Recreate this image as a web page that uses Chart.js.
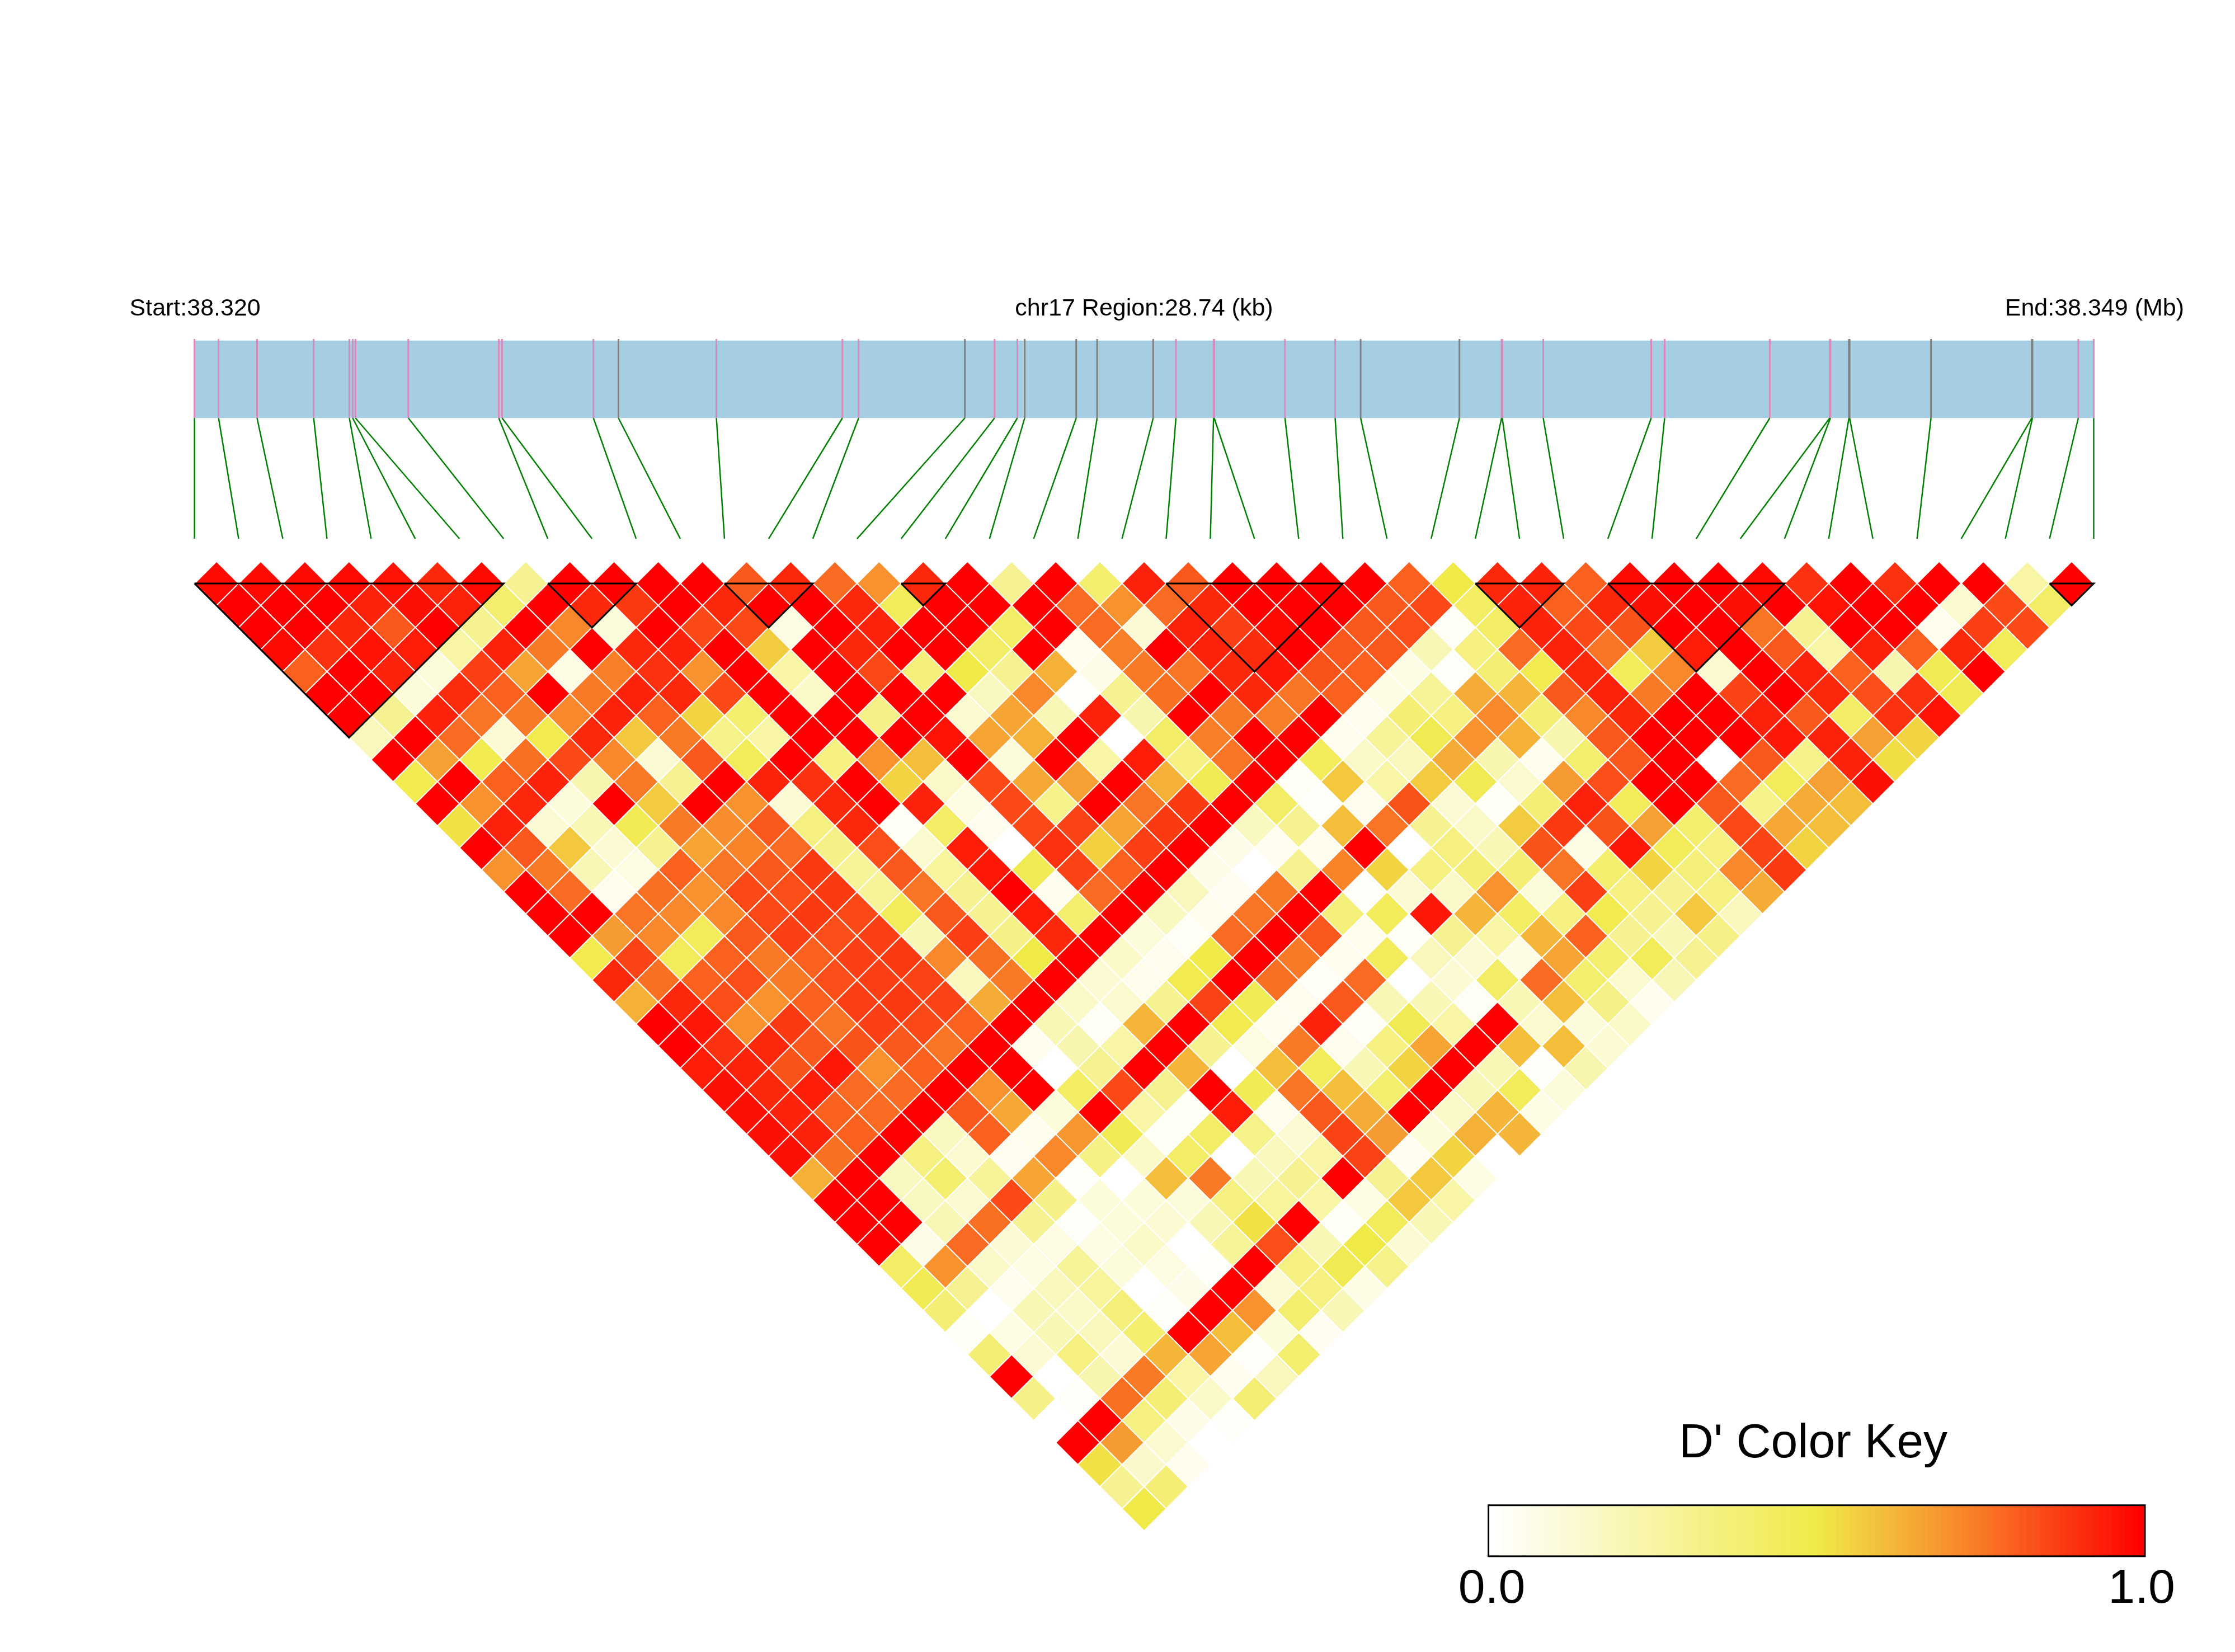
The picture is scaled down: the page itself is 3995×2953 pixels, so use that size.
<!DOCTYPE html>
<html>
<head>
<meta charset="utf-8">
<title>D' LD heatmap chr17</title>
<script src="https://cdn.jsdelivr.net/npm/chart.js@4/dist/chart.umd.min.js"></script>
<style>
  html, body { margin: 0; padding: 0; background: #fff; }
  #wrap { position: relative; width: 3995px; height: 2953px; overflow: hidden; }
  canvas { position: absolute; display: block; }
</style>
</head>
<body>
<div id="wrap">
  <canvas id="ldChart" width="3995" height="2953" style="left:0;top:0"></canvas>
  <canvas id="keyChart" width="1400" height="193" style="left:2560px;top:2680px"></canvas>
</div>
<script>
const regionKb = 28.74;

// SNP positions in kb from the region start
const snpKb = [0, .365, .947, 1.804, 2.344, 2.394, 2.436, 3.236, 4.605, 4.655, 6.037,
  6.416, 7.898, 9.805, 10.05, 11.658, 12.107, 12.452, 12.563, 13.343, 13.659, 14.508,
  14.852, 15.421, 15.431, 16.502, 17.261, 17.647, 19.142, 19.78, 19.79, 20.41, 22.044,
  22.247, 23.838, 24.746, 24.756, 25.036, 25.046, 26.278, 27.803, 27.813, 28.507, 28.74];
// SNPs whose tick is grey, the others are pink
const greySnps = [11, 15, 18, 19, 20, 21, 27, 28, 37, 38, 39, 40, 41];

// haplotype blocks as first and last SNP index
const blockStart = [0, 8, 12, 16, 22, 29, 32, 42];
const blockEnd = [7, 10, 14, 17, 26, 31, 36, 43];

// D' per row: row r holds the pairs (k, k + r + 1)
const dPrime = [
  [.98,.98,.98,.98,.96,.92,.98,.3,1,1,1,1,.82,.92,.78,.7,.92,1,.3,1,.4,.93,.82,1,1,1,1,.8,.5,.92,.93,.8,.98,1,1,.98,.9,1,.9,1,1,.25,1],
  [1,1,1,.93,.97,.93,.4,1,.92,.88,1,.92,1,1,.92,.45,1,1,1,.78,.7,.78,.92,1,1,1,.82,.85,.43,.93,.8,.92,.97,1,.97,1,.96,1,1,.13,.85,.42],
  [1,1,.92,.82,1,.3,1,.72,.1,1,.85,.85,.08,1,.93,1,1,.42,1,.78,.12,.93,.87,.98,1,.82,.84,.03,.42,.93,.85,.83,1,1,.76,.3,1,1,.05,.87,.85],
  [.98,.9,.96,.94,.25,.93,.75,1,.92,.93,1,.57,1,.92,1,1,.42,1,.05,.74,1,.93,.91,1,.82,.82,.2,.35,.78,.93,.76,.57,.94,1,.82,.25,.93,.8,.92,.46],
  [.8,1,.93,.1,.87,.66,.08,.74,.9,.7,1,.25,1,.85,.37,.5,.3,.63,.06,.75,.76,.92,.95,.83,.8,.07,.02,.38,.48,.92,.46,.72,.13,1,.93,.8,.22,.47,1],
  [1,1,.1,.91,.8,1,.75,.93,.92,.85,1,.15,1,1,1,.17,.72,.01,.3,.77,1,.92,.76,.8,.07,.28,.64,.62,.82,.93,.75,1,.86,1,.92,.84,.9,.47],
  [1,.3,.93,.76,.75,.72,.93,.8,.55,.4,1,1,.33,1,.13,.66,.2,.93,.22,1,.75,.74,1,.05,.38,.35,.72,.38,.72,.92,1,1,.93,.82,.42,.9,.96],
  [.18,1,.78,.12,.48,.92,.58,.75,.32,.25,1,1,1,.96,.66,.63,1,0,.42,.74,1,1,.05,.28,.47,.7,.63,.22,.82,1,1,1,.95,.93,.67,.55],
  [1,.67,.48,.77,.85,.72,.12,.82,.45,1,.35,.7,.6,1,.1,1,.25,.94,.35,.76,1,.45,.15,.18,.64,.22,.05,.4,.82,1,0,.82,.32,.93,.53],
  [.48,1,.8,.93,.22,.75,.3,1,.93,.9,1,.55,.15,.85,.65,.67,1,.63,.47,1,.03,.58,.25,.57,.47,.13,.68,.84,1,1,.78,.45,.67,.97],
  [1,.7,.92,.1,1,.57,1,.7,.12,.92,1,.93,.08,.85,.32,1,.76,.88,1,.42,.02,.05,.83,.12,.03,.38,.93,.45,1,.82,.32,.64,.6],
  [.52,.93,.12,.2,.47,.75,.71,.82,.35,.92,.03,.42,.05,.85,.86,.66,.88,1,.17,.3,.6,.76,.3,.15,.57,.88,.83,.67,.4,.85,.65,.6],
  [1,.82,.58,.12,.3,.66,.73,.78,.33,.84,.13,.94,0,.9,.56,.87,1,.06,.04,.05,1,0,.35,.2,.83,.07,.95,.45,.35,.86,.55],
  [.7,.75,.2,.08,.8,.76,.82,.88,.28,.82,.27,.95,.47,.86,.8,1,.06,0,.3,.73,.55,.35,.38,.38,.76,.4,.55,.37,.72,.88],
  [1,.78,.05,.77,.7,.85,.84,.88,.28,.76,.3,1,.05,.78,1,.18,.04,.75,1,.02,.12,.15,.7,.1,.87,.35,.3,.35,.64],
  [1,1,.76,.72,.72,.85,.88,.85,.45,.82,.3,.94,.4,1,.17,.05,.76,1,.37,.45,.95,.62,.43,.35,.48,.3,.58,.18],
  [1,.68,.72,.45,.82,.87,.84,.87,.2,.87,.33,.92,1,.1,.03,.78,1,.82,.05,.03,.3,.25,.62,.8,.3,.2,.33],
  [.48,.86,.45,.8,.75,.8,.87,.88,.72,.77,.5,1,.15,.05,.5,1,.75,.05,.45,.18,.12,.07,.66,.4,.45,.3],
  [.92,.77,.8,.84,.75,.84,.87,.86,.18,.75,1,.12,.05,.48,1,.77,.03,.78,0,.12,.42,.78,.4,.13,.2],
  [.63,.92,.84,.7,.8,.87,.88,.86,.64,1,.15,.13,.3,.86,.47,.05,.82,.2,.2,.03,.2,.6,.33,.05],
  [1,.95,.7,.88,.76,.87,.85,.8,1,.2,.03,.62,1,.48,.05,.93,.03,.47,.25,1,.13,.1,.15],
  [1,.9,.92,.82,.83,.82,.76,1,.05,.22,.25,1,.3,.08,.75,.05,.35,.66,1,.6,.6,.12],
  [.94,.93,.83,.95,.7,.8,1,1,0,.3,1,.62,0,.6,.45,.2,.55,1,.2,.02,.22],
  [.97,.92,.94,.78,.78,1,.7,1,.43,.85,.3,1,.47,.76,.6,.4,1,.2,.45,.1],
  [.97,.93,.8,.78,1,.82,.65,.1,1,.25,.03,.94,.05,.82,.64,1,.15,.62,.07],
  [.97,.93,.8,1,.17,.8,.05,.69,.47,.03,.42,.32,.12,.86,.68,.1,.63,.62],
  [.97,.77,1,.35,.13,.04,.72,.34,.15,.42,0,.18,.25,.86,.04,.55,0],
  [.63,1,.17,.4,.28,.66,.02,0,.6,.75,.2,.3,1,.3,.58,.07],
  [1,1,.17,.13,.85,.33,.1,.1,.1,.35,.27,.25,.08,.58,.25],
  [1,1,.2,.77,.3,.02,.1,.12,.2,.52,1,.03,.45,.2],
  [1,.06,.78,.12,.08,.08,.15,0,.28,.84,.2,.5,.12],
  [.42,.7,.15,.08,.28,.1,.08,.01,1,.35,.47,.32],
  [.47,.3,.05,.18,.27,0,.06,1,.12,.35,.07],
  [.38,0,.2,.15,.37,.02,1,.7,.4,.2],
  [.03,.08,.2,.18,.4,1,.6,.1,.04],
  [.38,.12,.35,.12,.62,.66,.02,.4],
  [1,0,.22,.75,.25,.05,.18],
  [.33,.02,.77,.38,.15,.38],
  [0,1,.35,.06,.02],
  [1,.68,.13,0],
  [.52,.14,.05],
  [.3,.38],
  [.5]
];

// colour ramp of the key
const rampStops = [0, .5, .7, 1];
const rampColors = [[255, 255, 255], [240, 234, 72], [247, 146, 46], [255, 0, 0]];

function ldColor(v) {
  let i = 0;
  while (i < rampStops.length - 2 && v > rampStops[i + 1]) i++;
  const t = (v - rampStops[i]) / (rampStops[i + 1] - rampStops[i]);
  const c = rampColors[i].map((a, n) => Math.round(a + (rampColors[i + 1][n] - a) * t));
  return `rgb(${c[0]},${c[1]},${c[2]})`;
}

// page geometry: x axis counts SNP slots, y axis counts heatmap rows
const W = 3995, H = 2953;
const originX = 347.6, stepX = 78.95, originY = 1043, stepY = 39.38;
const barTop = -11.03, barBottom = -7.51, tickTop = -11.1, connectorEnd = -2.03;

const cells = [];
dPrime.forEach((row, r) => row.forEach((v, k) => {
  cells.push({ x: k + (r + 1) / 2, y: r, v: v });
}));

const toSlot = kb => kb * (snpKb.length - 1) / regionKb;
const gap = { x: NaN, y: NaN };
const pinkTicks = [], greyTicks = [], connectors = [], blockLines = [];
snpKb.forEach((kb, i) => {
  const x = toSlot(kb);
  const t = greySnps.includes(i) ? greyTicks : pinkTicks;
  t.push({ x: x, y: tickTop }, { x: x, y: barBottom }, gap);
  connectors.push({ x: x, y: barBottom }, { x: i, y: connectorEnd }, gap);
});
blockStart.forEach((a, n) => {
  const b = blockEnd[n];
  blockLines.push({ x: a, y: 0 }, { x: b, y: 0 }, { x: (a + b) / 2, y: b - a }, { x: a, y: 0 }, gap);
});

const pageTexts = [
  { text: 'Start:38.320', x: 231.5, y: 564, size: 43, align: 'left' },
  { text: 'chr17 Region:28.74 (kb)', x: 2045, y: 564, size: 43, align: 'center' },
  { text: 'End:38.349 (Mb)', x: 3904, y: 564, size: 43, align: 'right' },
  { text: "D' Color Key", x: 3241, y: 2605, size: 86, align: 'center' }
];

const textPlugin = {
  id: 'pageTexts',
  afterDraw(chart) {
    const ctx = chart.ctx;
    ctx.save();
    ctx.fillStyle = '#000';
    ctx.textBaseline = 'alphabetic';
    pageTexts.forEach(t => {
      ctx.font = `${t.size}px "Liberation Sans", Arial, sans-serif`;
      ctx.textAlign = t.align;
      ctx.fillText(t.text, t.x, t.y);
    });
    ctx.restore();
  }
};

const lineSet = (data, color, width, order) => ({
  data: data, showLine: true, borderColor: color, borderWidth: width,
  pointRadius: 0, order: order, spanGaps: false, fill: false
});

new Chart(document.getElementById('ldChart'), {
  type: 'scatter',
  data: {
    datasets: [
      lineSet(blockLines, '#000', 3, 1),
      {
        data: cells,
        pointStyle: 'rectRot',
        pointRadius: stepY + .1,
        pointBackgroundColor: cells.map(c => ldColor(c.v)),
        pointBorderColor: '#fff',
        pointBorderWidth: 2,
        order: 2
      },
      lineSet(connectors, '#008000', 2.5, 3),
      lineSet(greyTicks, '#808080', 3, 4),
      lineSet(pinkTicks, '#DD88BC', 3, 5),
      {
        data: [{ x: 0, y: barTop }, { x: snpKb.length - 1, y: barTop }],
        showLine: true, borderWidth: 0, pointRadius: 0,
        backgroundColor: '#A6CEE3', fill: { value: barBottom }, order: 6
      }
    ]
  },
  options: {
    responsive: false,
    animation: false,
    events: [],
    layout: { padding: 0, autoPadding: false },
    plugins: { legend: { display: false }, tooltip: { enabled: false } },
    scales: {
      x: { type: 'linear', display: false, min: -originX / stepX, max: (W - originX) / stepX },
      y: { type: 'linear', display: false, reverse: true, min: -originY / stepY, max: (H - originY) / stepY }
    }
  },
  plugins: [textPlugin]
});

// colour key
const keySteps = 100;
const keyLabels = [], keyBars = [], keyColors = [];
for (let i = 0; i < keySteps; i++) {
  const v = i / (keySteps - 1);
  keyLabels.push(i === 0 ? '0.0' : i === keySteps - 1 ? '1.0' : '');
  keyBars.push(1);
  keyColors.push(ldColor(v));
}

const keyFrame = {
  id: 'keyFrame',
  afterDraw(chart) {
    const a = chart.chartArea, ctx = chart.ctx;
    ctx.save();
    ctx.strokeStyle = '#000';
    ctx.lineWidth = 3;
    ctx.strokeRect(a.left, a.top, a.right - a.left, a.bottom - a.top);
    ctx.restore();
  }
};

new Chart(document.getElementById('keyChart'), {
  type: 'bar',
  data: {
    labels: keyLabels,
    datasets: [{
      data: keyBars, backgroundColor: keyColors,
      barPercentage: 1, categoryPercentage: 1, borderWidth: 0
    }]
  },
  options: {
    responsive: false,
    animation: false,
    events: [],
    layout: { padding: { left: 100.6, right: 126, top: 10.7, bottom: 0 } },
    plugins: { legend: { display: false }, tooltip: { enabled: false } },
    scales: {
      x: {
        grid: { display: false, drawTicks: false },
        border: { display: false },
        ticks: {
          autoSkip: false, maxRotation: 0, padding: 8, color: '#000',
          font: { family: '"Liberation Sans", Arial, sans-serif', size: 86 }
        }
      },
      y: { display: false, min: 0, max: 1 }
    }
  },
  plugins: [keyFrame]
});
</script>
</body>
</html>
